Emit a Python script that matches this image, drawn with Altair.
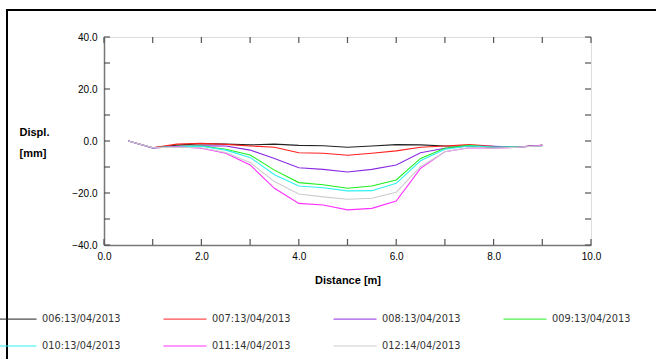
import altair as alt
import pandas as pd

distance = [0.5, 1.0, 1.5, 2.0, 2.5, 3.0, 3.5, 4.0, 4.5, 5.0, 5.5, 6.0, 6.5, 7.0, 7.5, 8.0, 8.5, 9.0]
series_names = ["006:13/04/2013", "007:13/04/2013", "008:13/04/2013", "009:13/04/2013",
                "010:13/04/2013", "011:14/04/2013", "012:14/04/2013"]
s006 = [0.0, -2.6, -1.6, -1.0, -1.2, -1.5, -1.2, -1.7, -1.8, -2.4, -1.9, -1.4, -1.5, -1.9, -1.9, -2.4, -2.3, -1.7]
s007 = [0.0, -2.6, -1.2, -0.9, -1.3, -1.9, -2.4, -4.5, -4.7, -5.5, -4.7, -3.8, -2.4, -1.9, -1.4, -2.0, -2.3, -1.7]
s008 = [0.0, -2.8, -2.0, -1.8, -1.9, -3.5, -6.7, -10.3, -10.9, -11.9, -10.9, -9.2, -4.5, -2.8, -1.9, -2.0, -2.3, -1.7]
s009 = [0.0, -2.6, -2.0, -1.9, -3.2, -5.4, -11.2, -16.0, -16.8, -18.2, -17.3, -15.0, -6.7, -2.8, -1.7, -2.4, -2.3, -1.8]
s010 = [0.0, -2.6, -2.1, -2.0, -3.5, -6.3, -13.0, -17.3, -18.0, -19.2, -19.1, -16.3, -7.6, -3.2, -1.9, -2.4, -2.3, -1.8]
s011 = [0.0, -2.6, -2.2, -2.8, -4.7, -9.2, -18.2, -24.0, -24.6, -26.5, -25.9, -23.1, -10.5, -4.1, -2.6, -2.8, -2.4, -1.7]
s012 = [0.0, -2.6, -2.4, -2.6, -4.4, -8.3, -15.6, -20.4, -21.5, -22.4, -22.0, -19.7, -9.9, -4.1, -2.5, -2.8, -2.4, -1.8]
series_colors = ["#222222", "#ff2020", "#8a2be2", "#20ee20", "#30f0f0", "#ff30ff", "#cccccc"]

x_ticks = [0, 1, 2, 3, 4, 5, 6, 7, 8, 9, 10]
x_labels = [0, 2, 4, 6, 8, 10]
y_ticks = [-40, -30, -20, -10, 0, 10, 20, 30, 40]
y_labels = [-40, -20, 0, 20, 40]

all_values = [s006, s007, s008, s009, s010, s011, s012]
rows = []
for name, vals in zip(series_names, all_values):
    for d, v in zip(distance, vals):
        rows.append({"Distance": d, "Displ": v, "Series": name})
df = pd.DataFrame(rows)

W, H = 487, 208
xs = alt.Scale(domain=[0, 10], nice=False, zero=False)
ys = alt.Scale(domain=[-40, 40], nice=False, zero=False)
FONT = "DejaVu Sans"
TXT = "#333333"

lines = alt.Chart(df).mark_line(strokeWidth=1.1, clip=True).encode(
    x=alt.X("Distance:Q", scale=xs,
            axis=alt.Axis(values=x_labels, format=".1f", tickSize=0, labelPadding=6,
                          labelFlush=False,
                          domainColor="#777777", domainWidth=1.5, grid=False,
                          title="Distance [m]", titlePadding=13)),
    y=alt.Y("Displ:Q", scale=ys,
            axis=alt.Axis(values=y_labels, format=".1f", tickSize=0, labelPadding=7,
                          labelFlush=False,
                          domainColor="#777777", domainWidth=1.5, grid=False,
                          title=["Displ.", "[mm]"], titleAngle=0, titleAlign="left",
                          titleBaseline="alphabetic", titleX=-85, titleY=98,
                          titleLineHeight=21)),
    color=alt.Color("Series:N",
                    scale=alt.Scale(domain=series_names, range=series_colors),
                    legend=alt.Legend(orient="none", legendX=-111, legendY=260,
                                      direction="horizontal", title=None,
                                      columns=4, columnPadding=40, rowPadding=-24,
                                      symbolType="stroke", symbolSize=1849,
                                      symbolStrokeWidth=1, labelOffset=5,
                                      labelFont=FONT, labelFontSize=9.8,
                                      labelColor=TXT, padding=0)),
    order=alt.Order("Series:N"),
)

xt = pd.DataFrame({"t": x_ticks})
yt = pd.DataFrame({"t": y_ticks})

x_bottom = alt.Chart(xt).mark_rule(color="#555555", strokeWidth=1.2).encode(
    x=alt.X("t:Q", scale=xs), y=alt.value(H - 6), y2=alt.value(H))
x_top = alt.Chart(xt).mark_rule(color="#555555", strokeWidth=1.2).encode(
    x=alt.X("t:Q", scale=xs), y=alt.value(0), y2=alt.value(6))
y_left = alt.Chart(yt).mark_rule(color="#555555", strokeWidth=1.2).encode(
    y=alt.Y("t:Q", scale=ys), x=alt.value(0), x2=alt.value(6))
y_right = alt.Chart(yt).mark_rule(color="#555555", strokeWidth=1.2).encode(
    y=alt.Y("t:Q", scale=ys), x=alt.value(W - 6), x2=alt.value(W))

frame = alt.Chart(pd.DataFrame({"a": [0]})).mark_rect(
    filled=False, stroke="black", strokeWidth=2, clip=False).encode(
    x=alt.value(-97), y=alt.value(-27), x2=alt.value(560), y2=alt.value(330))

chart = alt.layer(frame, x_bottom, x_top, y_left, y_right, lines).properties(
    width=W, height=H,
    autosize=alt.AutoSizeParams(type="none"),
    padding={"left": 104, "top": 37, "right": 65, "bottom": 114},
).configure_view(stroke="#777777", strokeWidth=1.5).configure_axis(
    labelFont=FONT, labelFontSize=9, labelFontWeight="bold", labelColor=TXT,
    titleFont=FONT, titleFontSize=8.5, titleFontWeight="bold", titleColor=TXT,
).configure(background="white")

chart.save("out.html", embed_options={"renderer": "svg", "actions": False})
